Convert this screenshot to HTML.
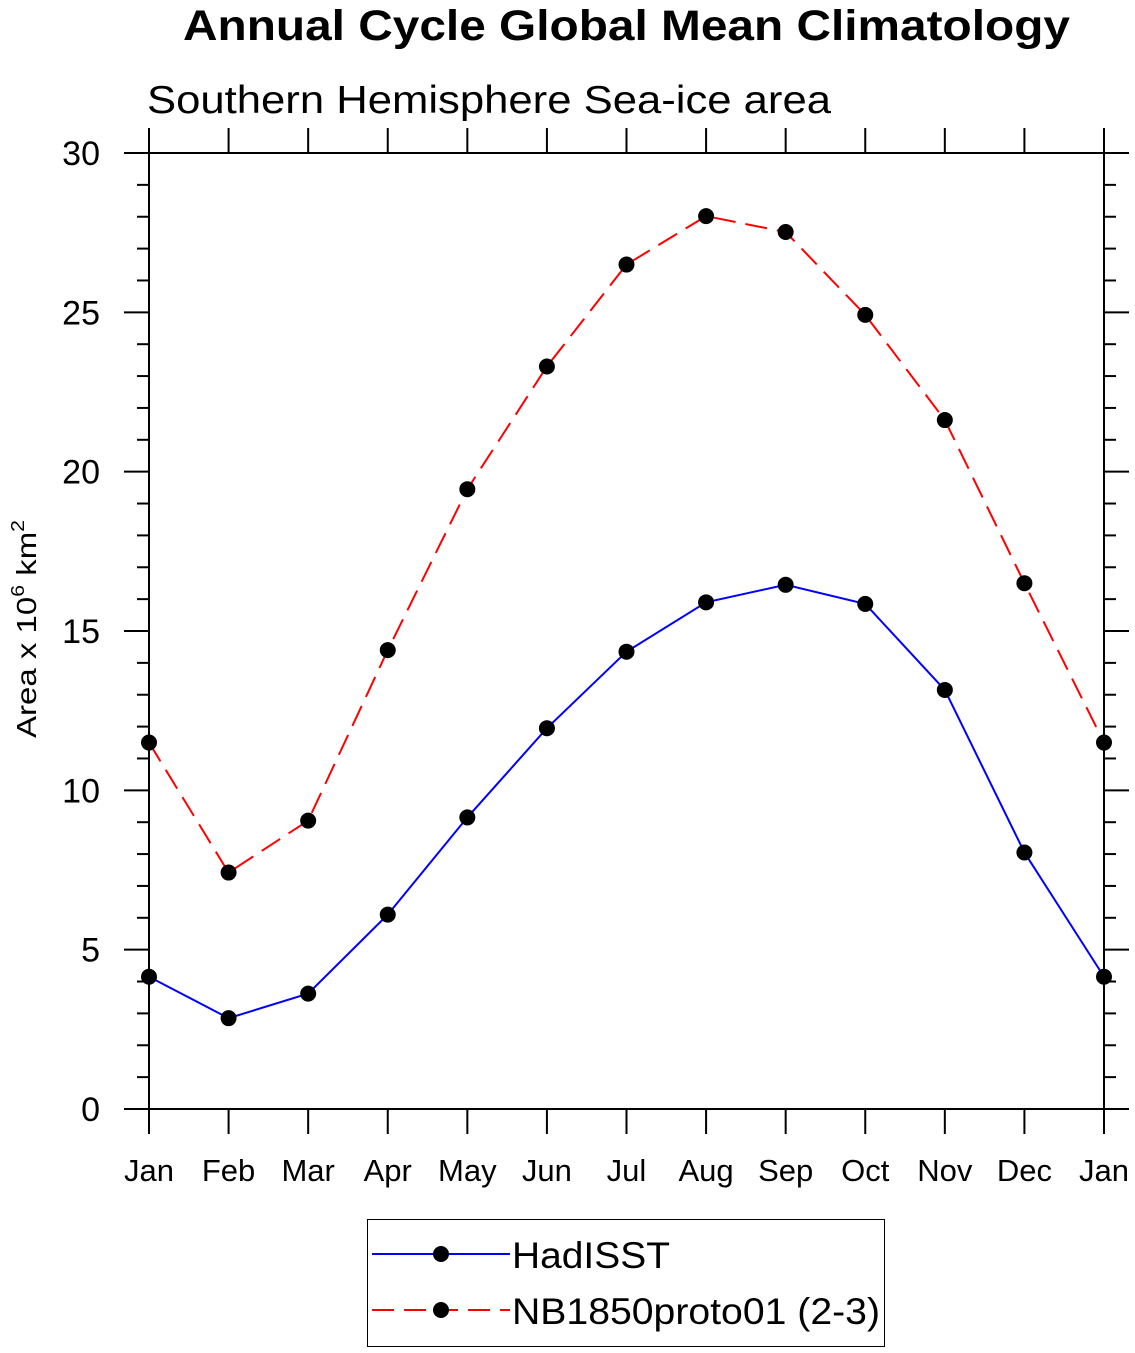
<!DOCTYPE html>
<html><head><meta charset="utf-8"><style>
body{margin:0;background:#fff}
svg{display:block;font-family:"Liberation Sans",sans-serif}
</style></head><body>
<svg id="chart" width="1135" height="1353" viewBox="0 0 1135 1353" xmlns="http://www.w3.org/2000/svg">
<text x="183" y="40" font-size="43" font-weight="bold" textLength="887" lengthAdjust="spacingAndGlyphs">Annual Cycle Global Mean Climatology</text>
<text x="147" y="113" font-size="39" textLength="684" lengthAdjust="spacingAndGlyphs">Southern Hemisphere Sea-ice area</text>
<text transform="translate(36,738) rotate(-90)" font-size="28" textLength="218" lengthAdjust="spacingAndGlyphs">Area x 10<tspan font-size="18" dy="-12">6</tspan><tspan dy="12"> km</tspan><tspan font-size="18" dy="-12">2</tspan></text>
<g id="axes"></g>
<g id="series"></g>
<g>
<rect x="367.5" y="1219.5" width="517" height="127" fill="none" stroke="#000" stroke-width="1"/>
<line x1="372" y1="1254" x2="510" y2="1254" stroke="#0000ff" stroke-width="2"/>
<circle cx="441" cy="1254" r="8" fill="#000"/>
<text x="512" y="1268" font-size="37" textLength="158" lengthAdjust="spacingAndGlyphs">HadISST</text>
<line x1="372" y1="1310" x2="510" y2="1310" stroke="#ff0000" stroke-width="2" stroke-dasharray="22,10"/>
<circle cx="441" cy="1310" r="8" fill="#000"/>
<text x="512" y="1324" font-size="37" textLength="368" lengthAdjust="spacingAndGlyphs">NB1850proto01 (2-3)</text>
</g>
</svg>
<script>
const months=["Jan","Feb","Mar","Apr","May","Jun","Jul","Aug","Sep","Oct","Nov","Dec","Jan"];
const hadisst=[4.15,2.85,3.62,6.1,9.15,11.95,14.35,15.9,16.45,15.85,13.15,8.05,4.15];
const nb1850=[11.5,7.42,9.05,14.4,19.45,23.3,26.5,28.02,27.52,24.92,21.62,16.5,11.5];
const yTicks=[0,5,10,15,20,25,30];
const NS="http://www.w3.org/2000/svg";
const L=149,R=1104,T=153,B=1109;
const xs=i=>L+(R-L)*i/12;
const ys=v=>B-(B-T)*v/30;
function mk(tag,attrs,parent){const e=document.createElementNS(NS,tag);for(const k in attrs)e.setAttribute(k,attrs[k]);parent.appendChild(e);return e;}
const ax=document.getElementById('axes');
const fr=mk('rect',{x:L,y:T,width:R-L,height:B-T,fill:'none',stroke:'#000','stroke-width':2},ax);


for(let v=0;v<=30;v++){
  const y=ys(v),maj=v%5===0,len=maj?25:12;
  mk('line',{x1:L-len,y1:y,x2:L,y2:y,stroke:'#000','stroke-width':2},ax);
  mk('line',{x1:R,y1:y,x2:R+len,y2:y,stroke:'#000','stroke-width':2},ax);
}
yTicks.forEach(v=>{
  const t=mk('text',{x:100,y:ys(v)+12,'font-size':34,'text-anchor':'end'},ax);
  t.textContent=v;
  
  
});
months.forEach((m,i)=>{
  const x=xs(i);
  mk('line',{x1:x,y1:B,x2:x,y2:B+25,stroke:'#000','stroke-width':2},ax);
  mk('line',{x1:x,y1:T-25,x2:x,y2:T,stroke:'#000','stroke-width':2},ax);
  const t=mk('text',{x:x,y:1181,'font-size':31,'text-anchor':'middle'},ax);
  t.textContent=m;
  
  
});
const sg=document.getElementById('series');
function draw(vals,color,dash,name){
  const p=mk('polyline',{points:vals.map((v,i)=>xs(i)+','+ys(v)).join(' '),fill:'none',stroke:color,'stroke-width':2,'stroke-dasharray':dash},sg);
  
  
  vals.forEach((v,i)=>{
    const c=mk('circle',{cx:xs(i),cy:ys(v),r:8,fill:'#000'},sg);
    
    
  });
}
draw(nb1850,'#ff0000','22,10','nb1850');
draw(hadisst,'#0000ff','none','hadisst');
</script>
</body></html>
